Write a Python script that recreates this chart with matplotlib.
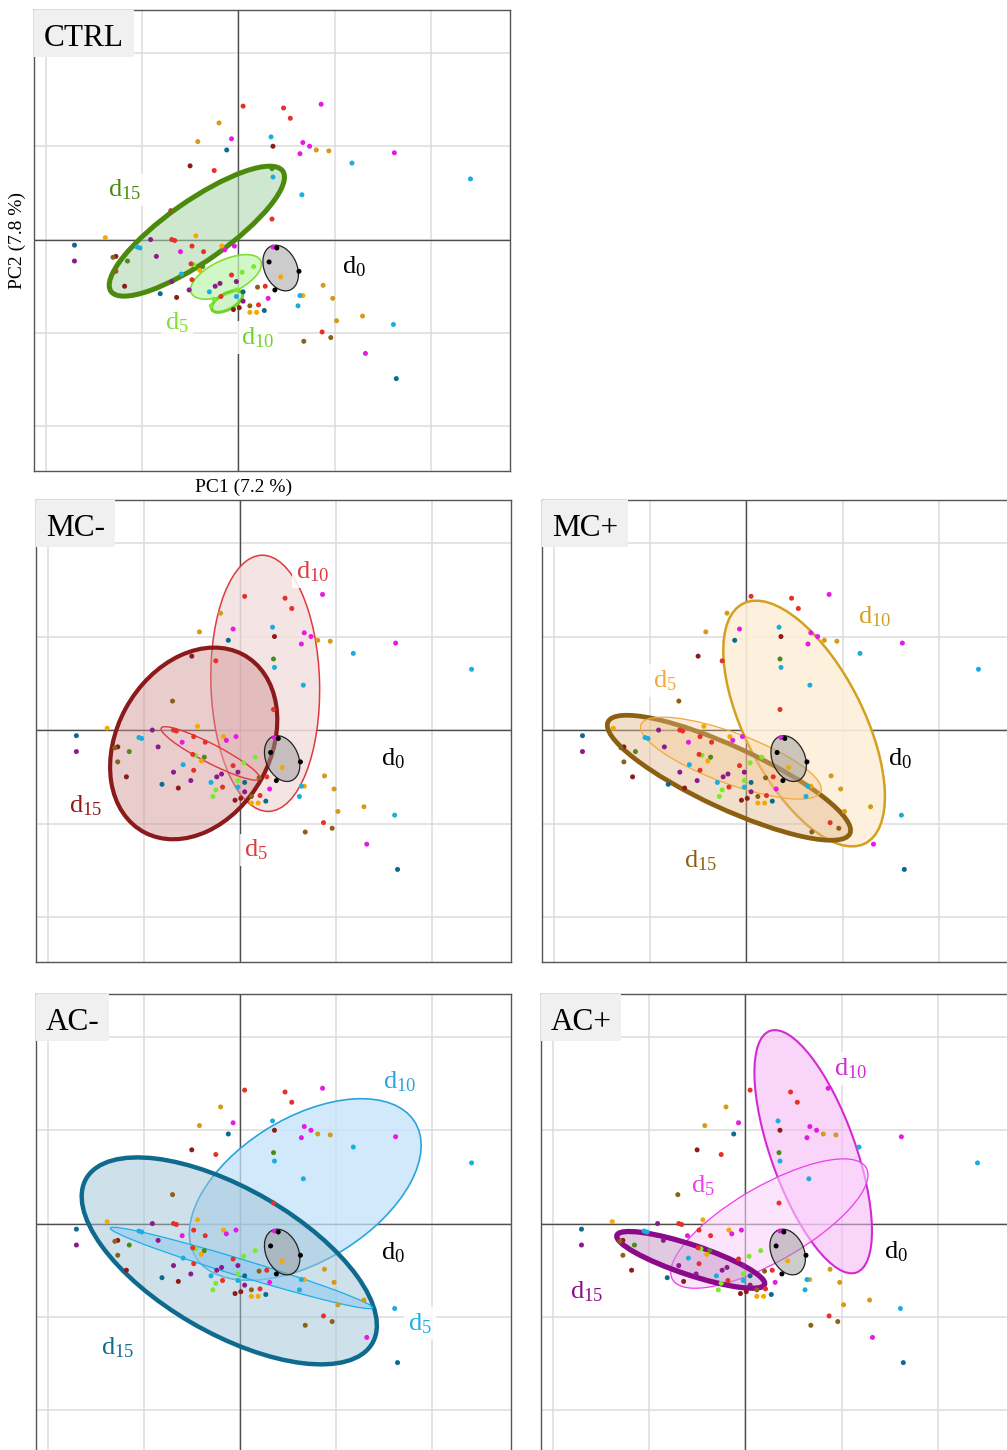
import matplotlib.pyplot as plt
from matplotlib.patches import Ellipse, Rectangle

plt.rcParams['font.family'] = ['Liberation Serif', 'DejaVu Serif']
plt.rcParams['mathtext.fontset'] = 'custom'
plt.rcParams['mathtext.rm'] = 'Liberation Serif'
plt.rcParams['mathtext.default'] = 'regular'

# PCA scores (PC1, PC2) of every sample, grouped by treatment / sampling day
ctrl_d15_pts = [(0.35, 0.76), (-1.15, -0.23), (-0.37, -0.29)]
ctrl_d5_pts = [(-0.46, -0.27), (-0.25, -0.64), (-0.28, -0.71), (0.04, -0.35),
               (0.16, -0.29), (-0.02, -0.54)]
mcm_d10_pts = [(0.05, 1.43), (0.47, 1.41), (0.54, 1.30), (-0.25, 0.74), (0.35, 0.22),
               (-0.69, 0.00), (-0.66, -0.01), (-0.48, -0.07), (-0.36, -0.13),
               (-0.49, -0.26), (-0.48, -0.43), (-0.18, -0.61), (-0.07, -0.38),
               (0.21, -0.70), (0.28, -0.50), (0.87, -0.99)]
mcm_d15_pts = [(0.36, 1.00), (-0.50, 0.79), (-1.27, -0.18), (-1.18, -0.50),
               (-0.64, -0.62), (-0.05, -0.75), (0.01, -0.73)]
mcp_d10_pts = [(-0.20, 1.25), (-0.42, 1.05), (0.81, 0.96), (0.94, 0.95), (0.88, -0.49),
               (0.98, -0.63), (1.02, -0.87), (1.29, -0.82)]
mcp_d5_pts = [(-1.38, 0.02), (-0.44, 0.04), (-0.17, -0.07), (-0.40, -0.33),
              (0.12, -0.78), (0.19, -0.78), (0.44, -0.40), (0.67, -0.60)]
mcp_d15_pts = [(-0.70, 0.31), (-1.30, -0.19), (-1.27, -0.34), (0.12, -0.71),
               (0.96, -1.05), (0.68, -1.09), (0.20, -0.51)]
acm_d10_pts = [(0.34, 1.10), (1.18, 0.82), (2.41, 0.65), (0.36, 0.67), (0.66, 0.48),
               (-1.05, -0.08), (-1.02, -0.09), (-0.59, -0.37), (-0.30, -0.56),
               (-0.02, -0.61), (0.64, -0.60), (0.62, -0.71), (1.61, -0.91)]
acm_d15_pts = [(-0.12, 0.96), (-1.70, -0.06), (-0.81, -0.58), (0.05, -0.56),
               (0.27, -0.76), (1.64, -1.49)]
acp_d10_pts = [(0.86, 1.45), (-0.07, 1.08), (0.67, 1.04), (0.74, 1.00), (0.64, 0.92),
               (1.62, 0.93), (-0.60, -0.13), (-0.14, -0.11), (-0.04, -0.07),
               (0.31, -0.63), (0.36, -0.08), (1.32, -1.22)]
acp_d15_pts = [(-1.70, -0.23), (-0.91, 0.00), (-0.85, -0.18), (-0.69, -0.45),
               (-0.51, -0.54), (-0.24, -0.50), (-0.19, -0.47), (-0.02, -0.45),
               (0.05, -0.66)]
d0_pts = [(0.40, -0.09), (0.32, -0.24), (0.63, -0.34), (0.38, -0.54)]

point_groups = [
    (ctrl_d15_pts, '#4b8b17'), (ctrl_d5_pts, '#7fe82a'),
    (mcm_d10_pts, '#e4312a'), (mcm_d15_pts, '#8c1c1c'),
    (mcp_d10_pts, '#d49a1a'), (mcp_d5_pts, '#f5a800'), (mcp_d15_pts, '#8b6117'),
    (acm_d10_pts, '#1aaee0'), (acm_d15_pts, '#0d6a8c'),
    (acp_d10_pts, '#e619e6'), (acp_d15_pts, '#8c1a8c'),
    (d0_pts, '#000000'),
]

# 95 % ellipses: (centre PC1, centre PC2, semi-major, semi-minor, angle in degrees)
d0_ell = (0.44, -0.305, 0.255, 0.17, 112)
ctrl_ell = {'d15': (-0.43, 0.09, 1.10, 0.32, 36),
            'd5': (-0.127, -0.40, 0.40, 0.18, 26),
            'd10': (-0.116, -0.663, 0.18, 0.085, 30)}
mcm_ell = {'d10': (0.264, 0.50, 1.37, 0.565, 91.5),
           'd15': (-0.48, -0.143, 1.08, 0.80, 62),
           'd5': (-0.305, -0.25, 0.58, 0.10, -28)}
mcp_ell = {'d10': (0.60, 0.07, 1.43, 0.62, 116),
           'd15': (-0.18, -0.51, 1.39, 0.33, -25.5),
           'd5': (-0.16, -0.30, 1.00, 0.27, -21)}
acm_ell = {'d10': (0.68, 0.365, 1.35, 0.76, 33),
           'd15': (-0.11, -0.40, 1.73, 0.77, -31),
           'd5': (0.017, -0.476, 1.43, 0.09, -17.4)}
acp_ell = {'d10': (0.705, 0.77, 1.37, 0.44, 109),
           'd5': (0.25, 0.0, 1.17, 0.40, 31),
           'd15': (-0.566, -0.389, 0.81, 0.16, -19)}

# drawing styles: edge colour, fill colour, fill alpha, line width
styles = {
    'CTRL': {'d15': ('#4b8a0c', '#a9d3a9', 0.55, 3.6),
             'd5': ('#7ee032', '#c4f5b4', 0.75, 1.2),
             'd10': ('#6fd426', '#bfeeb0', 0.7, 2.2)},
    'MC-': {'d10': ('#e0393e', '#f3e0e0', 0.85, 1.1),
            'd15': ('#8b1a1a', '#cf8f8f', 0.45, 3.0),
            'd5': ('#e0393e', '#f0c8c8', 0.25, 1.0)},
    'MC+': {'d10': ('#d4a020', '#fdf0da', 0.9, 1.8),
            'd15': ('#8b6010', '#e4b98c', 0.45, 3.4),
            'd5': ('#f2a93b', '#f5c890', 0.35, 0.9)},
    'AC-': {'d10': ('#2aa5dc', '#c4e2fb', 0.75, 1.2),
            'd15': ('#0e6b8e', '#9fc3d6', 0.5, 3.2),
            'd5': ('#1ab0ea', '#8cc8f0', 0.5, 0.9)},
    'AC+': {'d10': ('#d42ad4', '#f7b4f7', 0.55, 1.5),
            'd5': ('#ee3cee', '#fbd4fb', 0.6, 0.9),
            'd15': ('#8b0a8b', '#c596c5', 0.5, 3.8)},
}

# label positions in PC coordinates
label_pos = {
    'CTRL': {'d15': (-1.18, 0.53), 'd5': (-0.64, -0.89), 'd10': (0.20, -1.05), 'd0': (1.20, -0.29)},
    'MC-': {'d10': (0.76, 1.69), 'd15': (-1.60, -0.81), 'd5': (0.17, -1.28), 'd0': (1.59, -0.31)},
    'MC+': {'d10': (1.33, 1.21), 'd5': (-0.84, 0.53), 'd15': (-0.47, -1.40), 'd0': (1.60, -0.31)},
    'AC-': {'d10': (1.66, 1.52), 'd5': (1.87, -1.07), 'd15': (-1.27, -1.33), 'd0': (1.59, -0.31)},
    'AC+': {'d10': (1.09, 1.66), 'd5': (-0.44, 0.41), 'd15': (-1.65, -0.73), 'd0': (1.56, -0.30)},
}

panel_ell = {'CTRL': ctrl_ell, 'MC-': mcm_ell, 'MC+': mcp_ell, 'AC-': acm_ell, 'AC+': acp_ell}

W, H = 1007, 1450
fig = plt.figure(figsize=(W / 100, H / 100), dpi=100)
renderer = fig.canvas.get_renderer()

# panel frames in pixels: left, top, width, height
frames = {'CTRL': (34, 10, 476, 461), 'MC-': (36, 500, 475, 462), 'MC+': (542, 500, 476, 462),
          'AC-': (36, 994, 475, 461), 'AC+': (541, 994, 476, 461)}


def draw_ellipse(ax, params, ec, fc, alpha, lw, z):
    cx, cy, a, b, ang = params
    ax.add_patch(Ellipse((cx, cy), 2 * a, 2 * b, angle=ang, facecolor=fc, alpha=alpha,
                         edgecolor='none', zorder=z))
    ax.add_patch(Ellipse((cx, cy), 2 * a, 2 * b, angle=ang, facecolor='none',
                         edgecolor=ec, lw=lw, zorder=z + 0.5))


for name, (l, t, w, h) in frames.items():
    ax = fig.add_axes([l / W, 1 - (t + h) / H, w / W, h / H])
    ax.set_xlim(-2.12, 2.82)
    ax.set_ylim(-2.48, 2.46)
    ax.set_xticks([-2, -1, 0, 1, 2])
    ax.set_yticks([-2, -1, 0, 1, 2])
    ax.tick_params(length=0, labelbottom=False, labelleft=False)
    ax.grid(True, color='#dcdcdc', lw=1.1)
    ax.set_axisbelow(True)
    for sp in ax.spines.values():
        sp.set_color('#555555')
        sp.set_linewidth(1.0)
    ax.axhline(0, color='#4d4d4d', lw=1.0, zorder=1)
    ax.axvline(0, color='#4d4d4d', lw=1.0, zorder=1)

    z = 2
    for key, params in panel_ell[name].items():
        ec, fc, alpha, lw = styles[name][key]
        draw_ellipse(ax, params, ec, fc, alpha, lw, z)
        z += 1
    draw_ellipse(ax, d0_ell, '#222222', '#9a9a9a', 0.5, 0.9, z)

    for pts, col in point_groups:
        xs = [p[0] for p in pts]
        ys = [p[1] for p in pts]
        ax.scatter(xs, ys, s=13, color=col, edgecolors='none', zorder=20)

    for key, (lx, ly) in label_pos[name].items():
        col = '#000000' if key == 'd0' else styles[name][key][0]
        ax.text(lx, ly, 'd$_{%s}$' % key[1:], color=col, fontsize=19, ha='center', va='center',
                zorder=25, bbox=dict(boxstyle='square,pad=0.15', fc='white', ec='none', alpha=0.85))

    # panel name in a grey tab flush with the top-left corner
    title = ax.text(10 / w, 1 - 35.7 / h, name, transform=ax.transAxes, fontsize=22.5,
                    ha='left', va='baseline', zorder=31)
    bb = title.get_window_extent(renderer)
    x_right = (bb.x1 + 9.5 - ax.get_window_extent(renderer).x0) / w
    ax.add_patch(Rectangle((0, 1 - 46.7 / h), x_right, 46.7 / h, transform=ax.transAxes,
                           facecolor='#f0f0f0', edgecolor='none', zorder=30))

    if name == 'CTRL':
        ax.text(0.44, -0.036, 'PC1 (7.2 %)', transform=ax.transAxes, fontsize=14,
                ha='center', va='center')
        ax.text(-0.034, 0.5, 'PC2 (7.8 %)', transform=ax.transAxes, fontsize=14,
                ha='center', va='center', rotation=90)

fig.savefig('out.png', dpi=100)
